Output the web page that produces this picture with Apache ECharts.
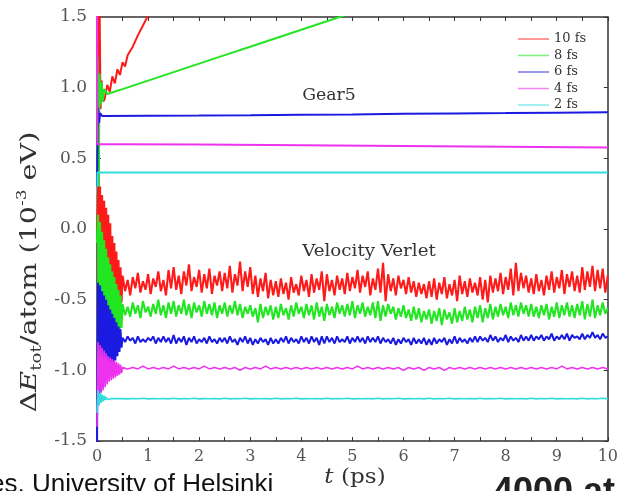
<!DOCTYPE html>
<html>
<head>
<meta charset="UTF-8">
<title>Energy drift</title>
<script src="https://cdn.jsdelivr.net/npm/echarts@6/dist/echarts.min.js"></script>
<style>
  html, body { margin: 0; padding: 0; background: #fff; }
  #chart { width: 621px; height: 491px; }
</style>
</head>
<body>
<div id="chart"></div>
<script>
// legend names (time step) and colours
var names = ['10 fs', '8 fs', '6 fs', '4 fs', '2 fs'];
var colors = ['#ff1a1a', '#22e622', '#1a1ae0', '#ee33ee', '#33dddd'];

// Gear5 runs
var tGear10 = [0, 0.02, 0.03, 0.05, 0.07, 0.09, 0.12, 0.15, 0.2, 0.25, 0.3, 0.35, 0.4, 0.45, 0.5, 0.55, 0.6, 0.7, 0.8, 0.9, 1.0, 1.1];
var vGear10 = [0.0, 1.6, -0.05, 1.6, 0.85, 1.05, 0.9, 0.92, 1.02, 0.97, 1.08, 1.03, 1.13, 1.09, 1.18, 1.15, 1.23, 1.29, 1.37, 1.44, 1.51, 1.58];
var tGear8 = [0, 0.01, 0.03, 0.05, 0.07, 0.09, 0.11, 0.14, 0.2, 0.5, 1.0, 1.5, 2.0, 2.5, 3.0, 3.5, 4.0, 4.5, 5.0];
var vGear8 = [0.0, 1.22, 0.05, 1.1, 0.88, 1.04, 0.9, 0.99, 0.955, 0.99, 1.05, 1.11, 1.17, 1.23, 1.29, 1.35, 1.41, 1.47, 1.53];
var tGear6 = [0, 0.02, 0.04, 0.06, 0.1, 1, 2, 3, 4, 5, 6, 7, 8, 9, 10];
var vGear6 = [0.3, 0.86, 0.75, 0.82, 0.80, 0.802, 0.803, 0.805, 0.808, 0.81, 0.815, 0.818, 0.82, 0.823, 0.826];
var tGear4 = [0, 0.01, 0.5, 2, 4, 6, 8, 10];
var vGear4 = [1.55, 0.60, 0.60, 0.597, 0.592, 0.587, 0.582, 0.577];
var tGear2 = [0, 0.01, 2, 4, 6, 8, 10];
var vGear2 = [0.0, 0.40, 0.40, 0.40, 0.40, 0.40, 0.40];

// Velocity Verlet runs
// start-up transient, sampled every 0.02 ps
var tStart = [0, 0.02, 0.04, 0.06, 0.08, 0.1, 0.12, 0.14, 0.16, 0.18, 0.2, 0.22, 0.24, 0.26, 0.28, 0.3, 0.32, 0.34, 0.36, 0.38, 0.4, 0.42, 0.44, 0.46, 0.48];
// after the transient: noisy runs every 0.05 ps, quiet runs every 0.1 ps
var tFine = [0.5, 0.55, 0.6, 0.65, 0.7, 0.75, 0.8, 0.85, 0.9, 0.95, 1.0, 1.05, 1.1, 1.15, 1.2, 1.25, 1.3, 1.35, 1.4, 1.45,
  1.5, 1.55, 1.6, 1.65, 1.7, 1.75, 1.8, 1.85, 1.9, 1.95, 2.0, 2.05, 2.1, 2.15, 2.2, 2.25, 2.3, 2.35, 2.4, 2.45,
  2.5, 2.55, 2.6, 2.65, 2.7, 2.75, 2.8, 2.85, 2.9, 2.95, 3.0, 3.05, 3.1, 3.15, 3.2, 3.25, 3.3, 3.35, 3.4, 3.45,
  3.5, 3.55, 3.6, 3.65, 3.7, 3.75, 3.8, 3.85, 3.9, 3.95, 4.0, 4.05, 4.1, 4.15, 4.2, 4.25, 4.3, 4.35, 4.4, 4.45,
  4.5, 4.55, 4.6, 4.65, 4.7, 4.75, 4.8, 4.85, 4.9, 4.95, 5.0, 5.05, 5.1, 5.15, 5.2, 5.25, 5.3, 5.35, 5.4, 5.45,
  5.5, 5.55, 5.6, 5.65, 5.7, 5.75, 5.8, 5.85, 5.9, 5.95, 6.0, 6.05, 6.1, 6.15, 6.2, 6.25, 6.3, 6.35, 6.4, 6.45,
  6.5, 6.55, 6.6, 6.65, 6.7, 6.75, 6.8, 6.85, 6.9, 6.95, 7.0, 7.05, 7.1, 7.15, 7.2, 7.25, 7.3, 7.35, 7.4, 7.45,
  7.5, 7.55, 7.6, 7.65, 7.7, 7.75, 7.8, 7.85, 7.9, 7.95, 8.0, 8.05, 8.1, 8.15, 8.2, 8.25, 8.3, 8.35, 8.4, 8.45,
  8.5, 8.55, 8.6, 8.65, 8.7, 8.75, 8.8, 8.85, 8.9, 8.95, 9.0, 9.05, 9.1, 9.15, 9.2, 9.25, 9.3, 9.35, 9.4, 9.45,
  9.5, 9.55, 9.6, 9.65, 9.7, 9.75, 9.8, 9.85, 9.9, 9.95, 10.0];
var tCoarse = [0.5, 0.6, 0.7, 0.8, 0.9, 1.0, 1.1, 1.2, 1.3, 1.4, 1.5, 1.6, 1.7, 1.8, 1.9, 2.0, 2.1, 2.2, 2.3, 2.4,
  2.5, 2.6, 2.7, 2.8, 2.9, 3.0, 3.1, 3.2, 3.3, 3.4, 3.5, 3.6, 3.7, 3.8, 3.9, 4.0, 4.1, 4.2, 4.3, 4.4,
  4.5, 4.6, 4.7, 4.8, 4.9, 5.0, 5.1, 5.2, 5.3, 5.4, 5.5, 5.6, 5.7, 5.8, 5.9, 6.0, 6.1, 6.2, 6.3, 6.4,
  6.5, 6.6, 6.7, 6.8, 6.9, 7.0, 7.1, 7.2, 7.3, 7.4, 7.5, 7.6, 7.7, 7.8, 7.9, 8.0, 8.1, 8.2, 8.3, 8.4,
  8.5, 8.6, 8.7, 8.8, 8.9, 9.0, 9.1, 9.2, 9.3, 9.4, 9.5, 9.6, 9.7, 9.8, 9.9, 10.0];

var vStart10 = [0.0, 0.30, -0.95, 0.30, -0.90, 0.24, -0.88, 0.20, -0.85, 0.15, -0.80, 0.10, -0.78, 0.04, -0.75, -0.05, -0.72, -0.10, -0.68, -0.16, -0.64, -0.22, -0.58, -0.27, -0.52];
var vStart8 = [-0.1, 0.10, -1.20, 0.05, -1.15, -0.02, -1.10, -0.08, -1.05, -0.14, -1.00, -0.20, -0.96, -0.25, -0.92, -0.30, -0.88, -0.34, -0.84, -0.39, -0.80, -0.43, -0.75, -0.47, -0.70];
var vStart6 = [-1.55, -0.38, -1.20, -0.40, -1.15, -0.44, -1.12, -0.47, -1.08, -0.50, -1.05, -0.54, -1.02, -0.57, -0.99, -0.60, -0.96, -0.63, -0.93, -0.66, -0.90, -0.69, -0.87, -0.71, -0.84];
var vStart4 = [-1.40, -0.80, -1.18, -0.82, -1.16, -0.84, -1.14, -0.86, -1.12, -0.88, -1.10, -0.90, -1.08, -0.91, -1.07, -0.92, -1.06, -0.93, -1.05, -0.94, -1.04, -0.95, -1.03, -0.96, -1.02];
var vStart2 = [-1.30, -1.14, -1.25, -1.16, -1.23, -1.17, -1.22, -1.18, -1.21, -1.19, -1.205, -1.195, -1.205, -1.195, -1.20, -1.20, -1.20, -1.20, -1.20, -1.20, -1.20, -1.20, -1.20, -1.20, -1.20];

var vRun10 = [-0.33, -0.44, -0.36, -0.47, -0.34, -0.42, -0.31, -0.45, -0.37, -0.43, -0.32, -0.46, -0.35, -0.41, -0.30, -0.44, -0.36, -0.47, -0.29, -0.42,
  -0.27, -0.43, -0.33, -0.46, -0.30, -0.40, -0.25, -0.44, -0.34, -0.41, -0.29, -0.45, -0.32, -0.42, -0.28, -0.46, -0.33, -0.40, -0.30, -0.44,
  -0.31, -0.42, -0.26, -0.45, -0.32, -0.40, -0.23, -0.44, -0.30, -0.41, -0.27, -0.46, -0.33, -0.48, -0.35, -0.44, -0.31, -0.49, -0.36, -0.47,
  -0.37, -0.48, -0.35, -0.46, -0.38, -0.50, -0.34, -0.45, -0.39, -0.47, -0.33, -0.44, -0.36, -0.48, -0.32, -0.45, -0.35, -0.43, -0.30, -0.51,
  -0.32, -0.44, -0.36, -0.47, -0.33, -0.43, -0.35, -0.46, -0.31, -0.44, -0.34, -0.42, -0.29, -0.45, -0.33, -0.41, -0.30, -0.47, -0.35, -0.43,
  -0.28, -0.45, -0.24, -0.51, -0.32, -0.44, -0.35, -0.47, -0.33, -0.42, -0.36, -0.46, -0.34, -0.45, -0.37, -0.48, -0.38, -0.46, -0.39, -0.49,
  -0.37, -0.48, -0.35, -0.50, -0.38, -0.46, -0.34, -0.49, -0.39, -0.47, -0.36, -0.51, -0.33, -0.46, -0.37, -0.48, -0.35, -0.45, -0.38, -0.47,
  -0.34, -0.50, -0.36, -0.52, -0.33, -0.45, -0.35, -0.44, -0.31, -0.46, -0.34, -0.43, -0.28, -0.47, -0.24, -0.44, -0.31, -0.42, -0.33, -0.45,
  -0.35, -0.46, -0.32, -0.44, -0.36, -0.47, -0.33, -0.43, -0.30, -0.45, -0.34, -0.42, -0.29, -0.46, -0.32, -0.41, -0.30, -0.44, -0.33, -0.45,
  -0.27, -0.43, -0.30, -0.41, -0.26, -0.44, -0.29, -0.42, -0.28, -0.45, -0.33];

var vRun8 = [-0.53, -0.61, -0.55, -0.62, -0.52, -0.60, -0.54, -0.63, -0.51, -0.59, -0.55, -0.62, -0.53, -0.60, -0.50, -0.61, -0.54, -0.63, -0.52, -0.60,
  -0.51, -0.62, -0.54, -0.60, -0.50, -0.61, -0.53, -0.63, -0.52, -0.59, -0.54, -0.62, -0.51, -0.60, -0.53, -0.61, -0.52, -0.63, -0.54, -0.60,
  -0.52, -0.62, -0.54, -0.60, -0.51, -0.61, -0.53, -0.63, -0.55, -0.60, -0.54, -0.62, -0.56, -0.66, -0.53, -0.63, -0.55, -0.61, -0.54, -0.64,
  -0.55, -0.63, -0.53, -0.61, -0.56, -0.64, -0.54, -0.62, -0.52, -0.60, -0.55, -0.63, -0.53, -0.61, -0.54, -0.64, -0.52, -0.62, -0.55, -0.65,
  -0.53, -0.61, -0.55, -0.63, -0.52, -0.60, -0.54, -0.62, -0.53, -0.61, -0.51, -0.63, -0.54, -0.60, -0.52, -0.62, -0.55, -0.61, -0.52, -0.63,
  -0.51, -0.65, -0.54, -0.62, -0.53, -0.60, -0.55, -0.64, -0.56, -0.62, -0.54, -0.63, -0.57, -0.65, -0.55, -0.64, -0.56, -0.66, -0.58, -0.64,
  -0.57, -0.67, -0.58, -0.65, -0.56, -0.68, -0.57, -0.64, -0.59, -0.67, -0.56, -0.66, -0.58, -0.65, -0.55, -0.64, -0.57, -0.66, -0.55, -0.63,
  -0.54, -0.66, -0.56, -0.63, -0.53, -0.64, -0.55, -0.62, -0.53, -0.61, -0.55, -0.63, -0.52, -0.61, -0.54, -0.62, -0.52, -0.60, -0.54, -0.62,
  -0.53, -0.62, -0.55, -0.63, -0.54, -0.61, -0.53, -0.64, -0.55, -0.62, -0.52, -0.63, -0.54, -0.61, -0.52, -0.62, -0.54, -0.63, -0.53, -0.61,
  -0.51, -0.64, -0.53, -0.62, -0.50, -0.63, -0.54, -0.61, -0.52, -0.60, -0.56];

var vRun6 = [-0.77, -0.80, -0.76, -0.79, -0.77, -0.81, -0.76, -0.80, -0.78, -0.80, -0.77, -0.79, -0.76, -0.81, -0.77, -0.80, -0.76, -0.80, -0.77, -0.81,
  -0.75, -0.81, -0.77, -0.80, -0.76, -0.82, -0.77, -0.80, -0.76, -0.81, -0.78, -0.80, -0.77, -0.81, -0.76, -0.80, -0.78, -0.81, -0.77, -0.80,
  -0.77, -0.81, -0.76, -0.80, -0.78, -0.82, -0.77, -0.80, -0.76, -0.81, -0.77, -0.82, -0.78, -0.81, -0.77, -0.80, -0.78, -0.82, -0.77, -0.81,
  -0.78, -0.81, -0.77, -0.80, -0.76, -0.81, -0.77, -0.80, -0.78, -0.81, -0.76, -0.80, -0.77, -0.81, -0.76, -0.80, -0.77, -0.82, -0.76, -0.81,
  -0.76, -0.80, -0.77, -0.81, -0.76, -0.80, -0.78, -0.80, -0.76, -0.81, -0.77, -0.80, -0.76, -0.80, -0.77, -0.81, -0.76, -0.80, -0.77, -0.80,
  -0.76, -0.81, -0.77, -0.80, -0.78, -0.81, -0.77, -0.82, -0.78, -0.81, -0.77, -0.80, -0.78, -0.82, -0.77, -0.81, -0.78, -0.81, -0.77, -0.82,
  -0.78, -0.82, -0.77, -0.81, -0.78, -0.80, -0.77, -0.82, -0.78, -0.81, -0.76, -0.81, -0.77, -0.80, -0.78, -0.81, -0.77, -0.80, -0.76, -0.80,
  -0.76, -0.79, -0.77, -0.80, -0.75, -0.79, -0.76, -0.80, -0.77, -0.79, -0.75, -0.80, -0.76, -0.79, -0.77, -0.80, -0.75, -0.79, -0.76, -0.79,
  -0.75, -0.79, -0.76, -0.78, -0.75, -0.79, -0.76, -0.78, -0.74, -0.79, -0.76, -0.78, -0.75, -0.78, -0.74, -0.79, -0.75, -0.77, -0.76, -0.78,
  -0.74, -0.78, -0.75, -0.77, -0.73, -0.77, -0.75, -0.78, -0.74, -0.77, -0.76];

var vRun4 = [-0.98, -0.99, -0.98, -0.99, -0.97, -0.99, -0.98, -0.99, -0.98, -0.99, -0.97, -0.99, -0.98, -0.99, -0.98, -0.99, -0.97, -0.99, -0.98, -0.99,
  -0.98, -0.99, -0.98, -1.00, -0.98, -0.99, -0.98, -0.99, -0.97, -0.99, -0.98, -0.99, -0.98, -0.99, -0.98, -0.99, -0.98, -0.99, -0.98, -0.99,
  -0.98, -0.99, -0.98, -0.99, -0.98, -0.99, -0.97, -0.99, -0.98, -0.99, -0.98, -0.99, -0.98, -0.99, -0.98, -1.00, -0.98, -0.99, -0.98, -1.00,
  -0.98, -0.99, -0.98, -1.00, -0.98, -0.99, -0.98, -0.99, -0.98, -0.99, -0.98, -0.99, -0.98, -0.99, -0.98, -0.99, -0.98, -0.99, -0.98, -0.99,
  -0.98, -0.99, -0.98, -0.99, -0.98, -0.99, -0.97, -0.99, -0.98, -0.99, -0.98, -0.99, -0.98, -0.99, -0.98, -0.99];

var vRun2 = [-1.198, -1.202, -1.199, -1.201, -1.198, -1.202, -1.2, -1.201, -1.199, -1.202, -1.198, -1.202, -1.199, -1.201, -1.198, -1.202, -1.2, -1.201, -1.199, -1.202,
  -1.198, -1.202, -1.199, -1.201, -1.198, -1.202, -1.2, -1.201, -1.199, -1.202, -1.198, -1.202, -1.199, -1.201, -1.198, -1.202, -1.2, -1.201, -1.199, -1.202,
  -1.198, -1.202, -1.199, -1.201, -1.198, -1.202, -1.2, -1.201, -1.199, -1.202, -1.198, -1.202, -1.199, -1.201, -1.198, -1.202, -1.2, -1.201, -1.199, -1.202,
  -1.198, -1.202, -1.199, -1.201, -1.198, -1.202, -1.2, -1.201, -1.199, -1.202, -1.198, -1.202, -1.199, -1.201, -1.198, -1.202, -1.2, -1.201, -1.199, -1.202,
  -1.198, -1.202, -1.199, -1.201, -1.198, -1.202, -1.2, -1.201, -1.199, -1.202, -1.198, -1.202, -1.199, -1.201, -1.198, -1.202];

var gearT = [tGear10, tGear8, tGear6, tGear4, tGear2];
var gearV = [vGear10, vGear8, vGear6, vGear4, vGear2];
var startV = [vStart10, vStart8, vStart6, vStart4, vStart2];
var runT = [tFine, tFine, tFine, tCoarse, tCoarse];
var runV = [vRun10, vRun8, vRun6, vRun4, vRun2];
var runWidth = [2.1, 2.1, 2, 1.6, 1.6];

function pairs(t, v, out) {
  out = out || [];
  for (var i = 0; i < v.length; i++) out.push([t[i], v[i]]);
  return out;
}

var serif = 'DejaVu Serif';
var series = [];
for (var i = 0; i < 5; i++) {
  series.push({
    name: names[i], type: 'line', data: pairs(gearT[i], gearV[i]),
    showSymbol: false, color: colors[i], lineStyle: { width: 2, color: colors[i] }
  });
}
for (var j = 0; j < 5; j++) {
  series.push({
    name: names[j], type: 'line', data: pairs(runT[j], runV[j], pairs(tStart, startV[j])),
    showSymbol: false, color: colors[j], lineStyle: { width: runWidth[j], color: colors[j] }
  });
}

var axisLine = { show: true, onZero: false, lineStyle: { color: '#333', width: 1.5 } };
var tick = { show: true, inside: true, length: 4, lineStyle: { color: '#333' } };
var minor = { show: true, splitNumber: 2, length: 4, lineStyle: { color: '#333' } };

var chart = echarts.init(document.getElementById('chart'));
chart.setOption({
  animation: false,
  backgroundColor: '#fff',
  grid: { left: 97, right: 8, top: 17, bottom: 50 },
  legend: {
    data: names, orient: 'vertical', left: 513, top: 27,
    icon: 'rect', itemWidth: 31, itemHeight: 1.5, itemGap: 2.5,
    itemStyle: { opacity: 0.6 },
    textStyle: { fontFamily: serif, fontSize: 13, color: '#333', lineHeight: 14 }
  },
  xAxis: [
    { type: 'value', position: 'bottom', min: 0, max: 10, interval: 1,
      axisLine: axisLine, axisTick: tick, minorTick: minor, splitLine: { show: false },
      axisLabel: { fontFamily: serif, fontSize: 16, color: '#555', margin: 8 } },
    { type: 'value', position: 'top', min: 0, max: 10, interval: 1,
      axisLine: axisLine, axisTick: tick, minorTick: minor, splitLine: { show: false },
      axisLabel: { show: false } }
  ],
  yAxis: [
    { type: 'value', position: 'left', min: -1.5, max: 1.5, interval: 0.5,
      axisLine: axisLine, axisTick: tick, splitLine: { show: false },
      axisLabel: { fontFamily: serif, fontSize: 17, color: '#555', margin: 10,
        formatter: function (v) { return v.toFixed(1); } } },
    { type: 'value', position: 'right', min: -1.5, max: 1.5, interval: 0.5,
      axisLine: axisLine, axisTick: tick, splitLine: { show: false },
      axisLabel: { show: false } }
  ],
  graphic: [
    { type: 'text', x: 329, y: 96, scaleX: 1.08,
      style: { text: 'Gear5', font: '16px "DejaVu Serif"', fill: '#333', align: 'center', verticalAlign: 'middle' } },
    { type: 'text', x: 369, y: 252, scaleX: 1.14,
      style: { text: 'Velocity Verlet', font: '16px "DejaVu Serif"', fill: '#333', align: 'center', verticalAlign: 'middle' } },
    { type: 'text', x: 30, y: 272, rotation: Math.PI / 2, scaleX: 1.3,
      style: {
        text: '{a|Δ}{e|E}{s|tot}{a|/atom (10}{p|-3}{a| eV)}',
        align: 'center', verticalAlign: 'middle',
        rich: {
          a: { fontFamily: serif, fontSize: 22, lineHeight: 28, fill: '#333' },
          e: { fontFamily: serif, fontSize: 22, fontStyle: 'italic', lineHeight: 28, fill: '#333' },
          s: { fontFamily: serif, fontSize: 14, lineHeight: 14, verticalAlign: 'bottom', fill: '#333' },
          p: { fontFamily: serif, fontSize: 13, lineHeight: 13, verticalAlign: 'top', fill: '#333' }
        }
      } },
    { type: 'text', x: 355, y: 478, scaleX: 1.1,
      style: {
        text: '{i|t}{a| (ps)}', align: 'center', verticalAlign: 'middle',
        rich: {
          i: { fontFamily: serif, fontSize: 21, fontStyle: 'italic', fill: '#333' },
          a: { fontFamily: serif, fontSize: 21, fill: '#333' }
        }
      } },
    { type: 'text', x: -10, y: 472, style: { text: 'es, University of Helsinki', font: '26px "Liberation Sans"', fill: '#111', align: 'left', verticalAlign: 'top' } },
    { type: 'text', x: 493, y: 475, style: { text: '4000 at', font: 'bold 36px "Liberation Sans"', fill: '#222', align: 'left', verticalAlign: 'top' } }
  ],
  series: series
});
</script>
</body>
</html>
